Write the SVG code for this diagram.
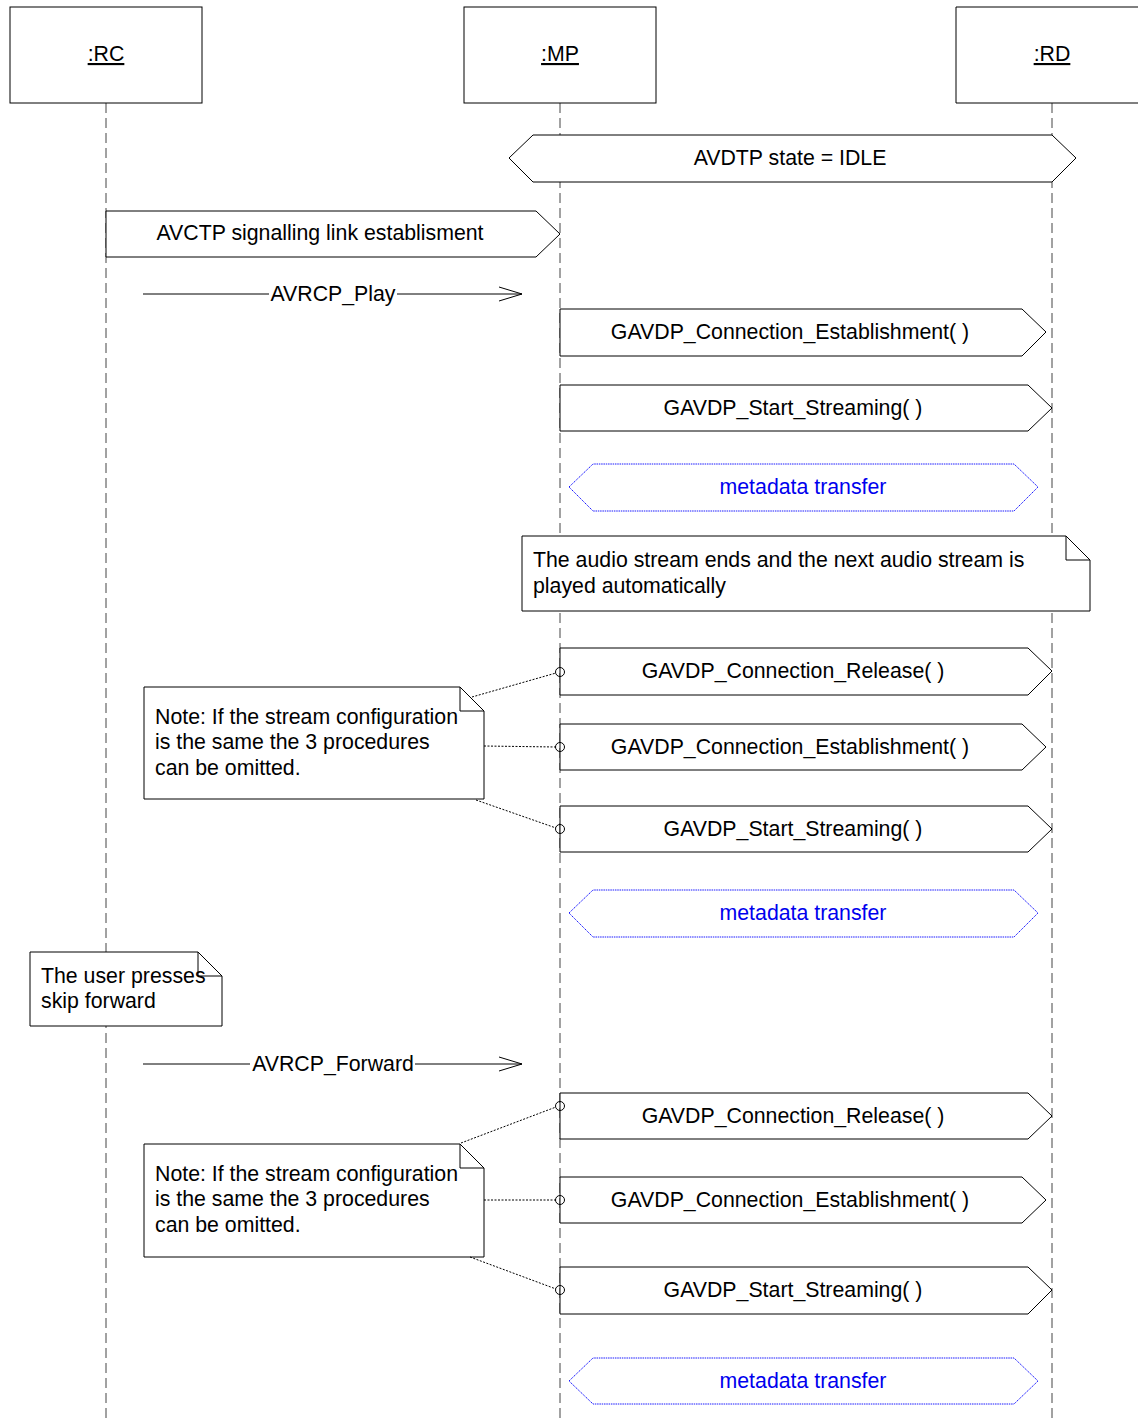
<svg xmlns="http://www.w3.org/2000/svg" width="1138" height="1422" viewBox="0 0 1138 1422">
<style>
text{font-family:"Liberation Sans",Arial,sans-serif;font-size:21.3px;fill:#000}
.c{text-anchor:middle}
.box{fill:#fff;stroke:#000;stroke-width:1}
.life{stroke:#444;stroke-width:1;stroke-dasharray:10,5;fill:none}
.meta{fill:#fff;stroke:#1a1aff;stroke-width:1;stroke-dasharray:1.5,0.8}
.mt{fill:#0000ee}
.dot{stroke:#000;stroke-width:1;stroke-dasharray:2,1.5;fill:none}
.circ{fill:#fff;fill-opacity:0;stroke:#000;stroke-width:1}
.ln{stroke:#000;stroke-width:1;fill:none}
</style>
<rect width="1138" height="1422" fill="#fff"/>
<g id="lifelines">
<line class="life" x1="106" y1="103" x2="106" y2="1422"/>
<line class="life" x1="560" y1="103" x2="560" y2="1422"/>
<line class="life" x1="1052" y1="103" x2="1052" y2="1422"/>
</g>
<g id="RC"><rect class="box" x="10" y="7" width="192" height="96"/><text class="c" x="106" y="61" text-decoration="underline">:RC</text></g>
<g id="MP"><rect class="box" x="464" y="7" width="192" height="96"/><text class="c" x="560" y="61" text-decoration="underline">:MP</text></g>
<g id="RD"><path class="box" d="M1138,7 H956 V103 H1138"/><text class="c" x="1052" y="61" text-decoration="underline">:RD</text></g>

<g id="avdtp"><polygon class="box" points="509,158 533,135 1052,135 1076,158 1052,182 533,182"/><text class="c" x="790" y="165">AVDTP state = IDLE</text></g>
<g id="avctp"><polygon class="box" points="106,211 536,211 560,234 536,257 106,257"/><text class="c" x="320" y="240">AVCTP signalling link establisment</text></g>

<g id="avrcp_play"><text class="c" x="333" y="301">AVRCP_Play</text></g>
<g id="avrcp_fwd"><text class="c" x="333" y="1071">AVRCP_Forward</text></g>

<g id="conn1"><polygon class="box" points="560,309 1022,309 1046,332 1022,356 560,356"/><text class="c" x="790" y="339">GAVDP_Connection_Establishment( )</text></g>
<g id="start1"><polygon class="box" points="560,385 1028,385 1052,408 1028,431 560,431"/><text class="c" x="793" y="415">GAVDP_Start_Streaming( )</text></g>
<g id="meta1"><polygon class="meta" points="569,487 593,464 1014,464 1038,487 1014,511 593,511"/><text class="c mt" x="803" y="494">metadata transfer</text></g>

<g id="note_audio"><path class="box" d="M522,536 H1066 L1090,560 V611 H522 Z"/><polyline class="ln" points="1066,536 1066,560 1090,560"/><text x="533" y="567">The audio stream ends and the next audio stream is</text><text x="533" y="593">played automatically</text></g>

<g id="rel1"><polygon class="box" points="560,648 1028,648 1052,671 1028,695 560,695"/><text class="c" x="793" y="678">GAVDP_Connection_Release( )</text></g>
<g id="conn2"><polygon class="box" points="560,724 1022,724 1046,747 1022,770 560,770"/><text class="c" x="790" y="754">GAVDP_Connection_Establishment( )</text></g>
<g id="start2"><polygon class="box" points="560,806 1028,806 1052,829 1028,852 560,852"/><text class="c" x="793" y="836">GAVDP_Start_Streaming( )</text></g>
<g id="meta2"><polygon class="meta" points="569,913 593,890 1014,890 1038,913 1014,937 593,937"/><text class="c mt" x="803" y="920">metadata transfer</text></g>

<g id="note1"><path class="box" d="M144,687 H460 L484,711 V799 H144 Z"/><polyline class="ln" points="460,687 460,711 484,711"/><text x="155" y="724">Note: If the stream configuration</text><text x="155" y="749">is the same the 3 procedures</text><text x="155" y="775">can be omitted.</text></g>

<g id="note_user"><path class="box" d="M30,952 H198 L222,976 V1026 H30 Z"/><polyline class="ln" points="198,952 198,976 222,976"/><text x="41" y="983">The user presses</text><text x="41" y="1008">skip forward</text></g>

<g id="rel2"><polygon class="box" points="560,1093 1028,1093 1052,1116 1028,1139 560,1139"/><text class="c" x="793" y="1123">GAVDP_Connection_Release( )</text></g>
<g id="conn3"><polygon class="box" points="560,1177 1022,1177 1046,1200 1022,1223 560,1223"/><text class="c" x="790" y="1207">GAVDP_Connection_Establishment( )</text></g>
<g id="start3"><polygon class="box" points="560,1267 1028,1267 1052,1290 1028,1314 560,1314"/><text class="c" x="793" y="1297">GAVDP_Start_Streaming( )</text></g>
<g id="meta3"><polygon class="meta" points="569,1381 593,1358 1014,1358 1038,1381 1014,1404 593,1404"/><text class="c mt" x="803" y="1388">metadata transfer</text></g>

<g id="note2"><path class="box" d="M144,1144 H460 L484,1168 V1257 H144 Z"/><polyline class="ln" points="460,1144 460,1168 484,1168"/><text x="155" y="1181">Note: If the stream configuration</text><text x="155" y="1206">is the same the 3 procedures</text><text x="155" y="1232">can be omitted.</text></g>

<g id="connectors">
<line class="ln" x1="143" y1="294" x2="269" y2="294"/><line class="ln" x1="397" y1="294" x2="522" y2="294"/>
<polyline class="ln" points="499,287 522,294 499,301"/>
<line class="ln" x1="143" y1="1064" x2="250" y2="1064"/><line class="ln" x1="415" y1="1064" x2="522" y2="1064"/>
<polyline class="ln" points="499,1057 522,1064 499,1071"/>
<line class="dot" x1="472" y1="697" x2="556" y2="673"/>
<line class="dot" x1="484" y1="746" x2="556" y2="747"/>
<line class="dot" x1="476" y1="800" x2="556" y2="828"/>
<line class="dot" x1="461" y1="1143" x2="556" y2="1107"/>
<line class="dot" x1="484" y1="1200" x2="556" y2="1200"/>
<line class="dot" x1="470" y1="1257" x2="556" y2="1289"/>
<circle class="circ" cx="560" cy="672" r="4.5"/>
<circle class="circ" cx="560" cy="747" r="4.5"/>
<circle class="circ" cx="560" cy="829" r="4.5"/>
<circle class="circ" cx="560" cy="1106" r="4.5"/>
<circle class="circ" cx="560" cy="1200" r="4.5"/>
<circle class="circ" cx="560" cy="1290" r="4.5"/>
</g>
</svg>
